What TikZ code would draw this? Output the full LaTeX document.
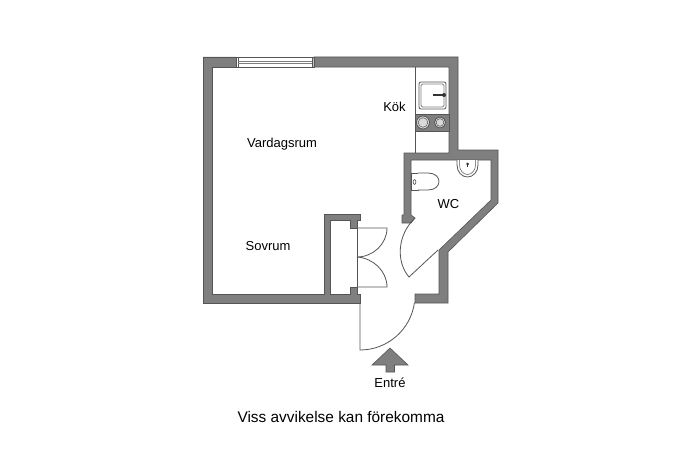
\documentclass[tikz,border=0pt]{standalone}
\usepackage{fontspec}
\setmainfont{Liberation Sans}
\definecolor{wallfill}{HTML}{7F7F7F}
\definecolor{wallline}{HTML}{555555}
\definecolor{thinline}{HTML}{555555}
\begin{document}
\begin{tikzpicture}[x=1pt,y=-1pt,
  wall/.style={fill=wallfill,draw=wallline,line width=0.6pt,line join=miter},
  thin line/.style={draw=thinline,line width=0.8pt},
  fixture/.style={draw=thinline,line width=0.8pt,fill=white},
  label/.style={font=\fontsize{13}{15}\selectfont,text=black,inner sep=0pt}]
\useasboundingbox (0,0) rectangle (690,460);
\fill[white] (0,0) rectangle (690,460);
% walls
\path[wall] (236,57) -- (203,57) -- (203,303) -- (360,303) -- (360,294) -- (357,294) -- (357,287) -- (350,287) -- (350,294) -- (330,294) -- (330,220) -- (350,220) -- (350,228) -- (357,228) -- (357,220) -- (360.5,220) -- (360.5,214) -- (324,214) -- (324,294) -- (212,294) -- (212,67) -- (236,67) -- cycle;
\path[wall] (314,57) -- (458,57) -- (458,150) -- (498,150) -- (498,203) -- (448,252) -- (448,303) -- (415,303) -- (415,294) -- (439,294) -- (439,250) -- (491,200) -- (491,160) -- (411,160) -- (411,215) -- (415,218) -- (411,223) -- (402,223) -- (402,215) -- (404,215) -- (404,153) -- (449,153) -- (449,67) -- (314,67) -- cycle;
% window
\draw[thin line] (236,57) rectangle (314,67);
\draw[thin line] (238,57) -- (238,67) (312,57) -- (312,67);
\draw[draw=gray,line width=0.8pt] (238,61) -- (312,61) (238,63) -- (312,63);
% kitchen
\draw[thin line] (415,67) -- (415,153);
\draw[fixture,rounded corners=2pt] (419,82) rectangle (446,109);
\draw[fixture,draw=gray,rounded corners=1.5pt] (421,84) rectangle (444,107);
\draw[draw=black!80,line width=1.2pt] (433,95) -- (444,95);
\fill[black!80] (444,95) circle (2);
\path[fill=wallfill,draw=wallline,line width=0.6pt] (415,114) rectangle (449,131);
\draw[fixture,fill=white!85!black] (423,122.5) circle (6.5);
\draw[draw=thinline,line width=0.5pt] (423,122.5) circle (4.8);
\draw[fixture,fill=white!85!black] (440,122.5) circle (5.5);
\draw[draw=thinline,line width=0.5pt] (440,122.5) circle (3.8);
% toilet
\draw[fixture] (411,173) rectangle (418,190);
\draw[fixture] (418,173) -- (428,173) .. controls (435,173) and (439,177) .. (439,181.5) .. controls (439,186) and (435,190) .. (428,190) -- (418,190);
\draw[draw=thinline,line width=0.6pt] (414.5,182) ellipse (1.4 and 2.4);
% washbasin
\draw[fixture] (457,160) -- (457,165) .. controls (457,172) and (462,177) .. (467.5,177) .. controls (473,177) and (478,172) .. (478,165) -- (478,160);
\draw[draw=thinline,line width=0.5pt] (459.5,160) -- (459.5,165) .. controls (459.5,170) and (463,174.5) .. (467.5,174.5) .. controls (472,174.5) and (475.5,170) .. (475.5,165) -- (475.5,160);
\draw[draw=black!80,line width=0.8pt] (467.5,163.5) -- (467.5,167);
\fill[black!80] (467.5,164) circle (1.5);
% closet doors
\draw[thin line] (357,228) -- (357,287);
\draw[thin line] (357,228) -- (387,228) .. controls (387,244) and (373,257) .. (357,257);
\draw[thin line] (357,287) -- (387,287) .. controls (387,271) and (373,258) .. (357,257);
% WC door
\draw[thin line] (438,250) -- (409,277) .. controls (396,262) and (397,235) .. (415,218);
% entry door
\draw[thin line] (360,303) -- (360,350) .. controls (387.4,350) and (410.65,329.8) .. (414.46,302.65);
% arrow
\path[wall] (390,348) -- (408,365) -- (394.5,365) -- (394.5,372) -- (386,372) -- (386,365) -- (372,365) -- cycle;
% labels
\node[label] (kok) at (394.5,106.7) {Kök};
\node[label] (vardag) at (282,143.7) {Vardagsrum};
\node[label] (sovrum) at (268,246.2) {Sovrum};
\node[label] (wc) at (448.5,203.7) {WC};
\node[label] (entre) at (390,382.7) {Entré};
\node[font=\fontsize{15.4}{18}\selectfont,inner sep=0pt] (note) at (341,416.5) {Viss avvikelse kan förekomma};
\end{tikzpicture}
\end{document}
